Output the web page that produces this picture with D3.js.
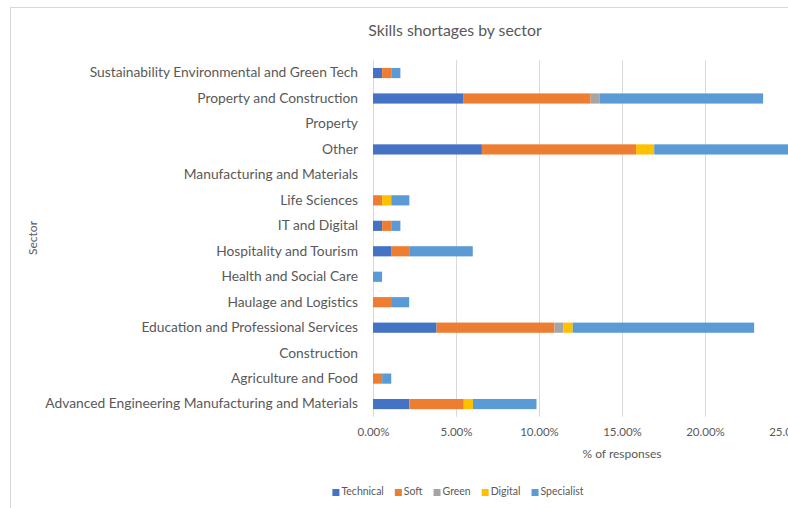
<!DOCTYPE html>
<html>
<head>
<meta charset="utf-8">
<script src="https://cdn.jsdelivr.net/npm/d3@7"></script>
<style>
  html, body { margin: 0; padding: 0; background: #fff; }
  svg { display: block; font-family: Lato, "Open Sans", sans-serif; }
</style>
</head>
<body>
<svg id="chart" width="788" height="508"></svg>
<script>
// Sectors, listed top to bottom
const sectors = [
  "Sustainability Environmental and Green Tech",
  "Property and Construction",
  "Property",
  "Other",
  "Manufacturing and Materials",
  "Life Sciences",
  "IT and Digital",
  "Hospitality and Tourism",
  "Health and Social Care",
  "Haulage and Logistics",
  "Education and Professional Services",
  "Construction",
  "Agriculture and Food",
  "Advanced Engineering Manufacturing and Materials"
];

// Share of responses (%) per skill type, same order as sectors
const technical  = [0.55, 5.46, 0, 6.56, 0, 0,    0.55, 1.09, 0,    0,    3.83,  0, 0,    2.19];
const soft       = [0.55, 7.65, 0, 9.29, 0, 0.55, 0.55, 1.09, 0,    1.09, 7.10,  0, 0.55, 3.28];
const green      = [0,    0.55, 0, 0,    0, 0,    0,    0,    0,    0,    0.55,  0, 0,    0];
const digital    = [0,    0,    0, 1.09, 0, 0.55, 0,    0,    0,    0,    0.55,  0, 0,    0.55];
const specialist = [0.55, 9.84, 0, 11.48,0, 1.09, 0.55, 3.83, 0.55, 1.09, 10.93, 0, 0.55, 3.83];

const seriesNames = ["Technical", "Soft", "Green", "Digital", "Specialist"];
const seriesColors = ["#4472C4", "#ED7D31", "#A5A5A5", "#FFC000", "#5B9BD5"];
const xTicks = [0, 5, 10, 15, 20, 25, 30];

const seriesValues = [technical, soft, green, digital, specialist];
const rows = sectors.map((s, i) => {
  const r = { sector: s };
  seriesNames.forEach((n, k) => { r[n] = seriesValues[k][i] / 100; });
  return r;
});

const svg = d3.select("#chart");
const textColor = "#595959";

// chart frame (continues past the right and bottom edges)
svg.append("rect")
  .attr("x", 10.5).attr("y", 7.5)
  .attr("width", 900).attr("height", 600)
  .attr("fill", "#fff").attr("stroke", "#d9d9d9").attr("stroke-width", 1);

const plot = { left: 373, right: 871, top: 60.3, bottom: 416.8 };

const x = d3.scaleLinear().domain([0, 0.30]).range([plot.left, plot.right]);
const y = d3.scaleBand().domain(sectors).range([plot.top, plot.bottom])
  .paddingInner(0.6).paddingOuter(0.3);

// vertical gridlines
svg.append("g").selectAll("line")
  .data(xTicks.map(t => t / 100))
  .join("line")
  .attr("x1", d => Math.round(x(d)) + 0.5).attr("x2", d => Math.round(x(d)) + 0.5)
  .attr("y1", plot.top).attr("y2", plot.bottom)
  .attr("stroke", "#d9d9d9").attr("stroke-width", 1);

// x axis labels
const xAxis = d3.axisBottom(x)
  .tickValues(xTicks.map(t => t / 100))
  .tickFormat(d3.format(".2%"))
  .tickSize(0).tickPadding(0);
const gx = svg.append("g").attr("transform", `translate(0,${plot.bottom + 11})`).call(xAxis);
gx.select(".domain").remove();
gx.selectAll("text").attr("fill", textColor).attr("font-size", 11.5).attr("font-family", "Lato, sans-serif");

// y axis labels
const yAxis = d3.axisLeft(y).tickSize(0).tickPadding(15);
const gy = svg.append("g").attr("transform", `translate(${plot.left},0)`).call(yAxis);
gy.select(".domain").remove();
gy.selectAll("text").attr("fill", textColor).attr("font-size", 13.8).attr("font-family", "Lato, sans-serif");

// stacked bars
const stack = d3.stack().keys(seriesNames);
const layers = stack(rows);
const color = d3.scaleOrdinal().domain(seriesNames).range(seriesColors);

svg.append("g").selectAll("g")
  .data(layers)
  .join("g")
  .attr("fill", d => color(d.key))
  .selectAll("rect")
  .data(d => d)
  .join("rect")
  .attr("x", d => x(d[0]))
  .attr("y", d => y(d.data.sector))
  .attr("width", d => Math.max(0, x(d[1]) - x(d[0])))
  .attr("height", y.bandwidth());

// title
svg.append("text")
  .attr("x", 455).attr("y", 32)
  .attr("text-anchor", "middle").attr("dominant-baseline", "middle")
  .attr("fill", textColor).attr("font-size", 15.8)
  .text("Skills shortages by sector");

// axis titles
svg.append("text")
  .attr("x", (plot.left + plot.right) / 2).attr("y", 455)
  .attr("text-anchor", "middle").attr("dominant-baseline", "middle")
  .attr("fill", textColor).attr("font-size", 12)
  .text("% of responses");

svg.append("text")
  .attr("transform", "translate(34,238) rotate(-90)")
  .attr("text-anchor", "middle").attr("dominant-baseline", "middle")
  .attr("fill", textColor).attr("font-size", 12)
  .text("Sector");

// legend
const legend = svg.append("g").attr("transform", "translate(0,492.5)");
const items = legend.selectAll("g").data(seriesNames).join("g");
items.append("rect")
  .attr("x", 0).attr("y", -3.5).attr("width", 7).attr("height", 7)
  .attr("fill", d => color(d));
items.append("text")
  .attr("x", 9).attr("y", 0)
  .attr("dominant-baseline", "middle")
  .attr("fill", textColor).attr("font-size", 10.5)
  .text(d => d);
const widths = [];
items.each(function () {
  const w = 9 + d3.select(this).select("text").node().getComputedTextLength();
  widths.push(w);
});
const gap = 11;
const total = d3.sum(widths) + gap * (widths.length - 1);
let cx = 458 - total / 2;
items.attr("transform", (d, i) => {
  const t = `translate(${cx},0)`;
  cx += widths[i] + gap;
  return t;
});
</script>
</body>
</html>
